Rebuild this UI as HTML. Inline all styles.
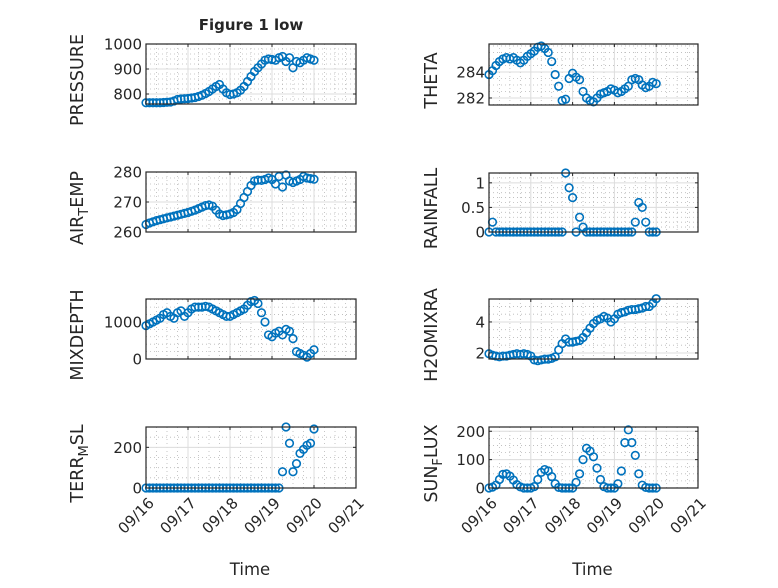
<!DOCTYPE html>
<html><head><meta charset="utf-8"><style>
body{margin:0;background:#fff}
svg text{font-family:"DejaVu Sans","Liberation Sans",sans-serif;fill:#262626}
</style></head><body>
<svg id="fig" width="778" height="583" viewBox="0 0 778 583" xmlns="http://www.w3.org/2000/svg">
<text x="251" y="30" font-size="15" font-weight="bold" text-anchor="middle">Figure 1 low</text>
</svg>
<script>
const hours = [0,2,4,6,8,10,12,14,16,18,20,22,24,26,28,30,32,34,36,38,40,42,44,46,48,50,52,54,56,58,60,62,64,66,68,70,72,74,76,78,80,82,84,86,88,90,92,94,96];
const pressure = [765,765,765,765,765,766,767,768,772,778,780,781,782,784,786,790,795,802,810,820,830,838,820,805,798,800,805,815,830,850,870,890,905,920,935,940,938,935,945,950,930,945,905,930,925,935,945,940,935];
const airTemp = [262.5,263,263.4,263.8,264.1,264.4,264.7,265,265.3,265.6,265.9,266.2,266.5,266.9,267.3,267.8,268.3,268.8,269,268.6,267.3,266,265.5,265.7,266,266.5,267.5,269.5,271.5,273.5,275.5,277,277.3,277.2,277.5,278,277.5,276,278.5,275,279,277,276.5,277,277.5,278.5,278,277.8,277.6];
const theta = [283.8,284.1,284.5,284.8,285.0,285.1,285.0,285.1,284.9,284.7,284.9,285.2,285.4,285.6,285.9,286.0,285.8,285.5,284.8,283.8,282.9,281.8,281.9,283.5,283.9,283.6,283.4,282.5,282.0,281.8,281.7,282.0,282.3,282.4,282.5,282.7,282.6,282.4,282.5,282.7,282.9,283.4,283.5,283.4,283.0,282.8,282.9,283.2,283.1];
const rainfall = [0,0.2,0,0,0,0,0,0,0,0,0,0,0,0,0,0,0,0,0,0,0,0,1.2,0.9,0.7,0,0.3,0.1,0,0,0,0,0,0,0,0,0,0,0,0,0,0,0.2,0.6,0.5,0.2,0,0,0];
const mixDepth = [900,950,1000,1050,1100,1200,1250,1150,1100,1250,1300,1150,1250,1350,1400,1400,1400,1420,1400,1350,1300,1250,1200,1150,1150,1200,1250,1300,1350,1450,1550,1580,1500,1250,1000,650,600,700,750,650,800,750,550,200,150,100,50,150,250];
const h2oMix = [1.95,1.85,1.8,1.75,1.8,1.8,1.85,1.9,1.95,1.9,1.95,1.9,1.8,1.55,1.5,1.55,1.6,1.6,1.65,1.75,2.2,2.6,2.9,2.7,2.7,2.75,2.8,3.0,3.3,3.6,3.9,4.1,4.2,4.35,4.25,4.0,4.2,4.5,4.6,4.65,4.75,4.8,4.8,4.85,4.9,5.0,5.0,5.2,5.5];
const terrMsl = [0,0,0,0,0,0,0,0,0,0,0,0,0,0,0,0,0,0,0,0,0,0,0,0,0,0,0,0,0,0,0,0,0,0,0,0,0,0,0,80,300,220,80,120,170,190,210,220,290];
const sunFlux = [0,3,10,30,48,50,42,28,12,4,0,0,0,5,30,55,65,60,40,15,2,0,0,0,0,20,50,100,140,130,110,70,30,5,0,0,0,15,60,160,205,160,115,50,10,2,0,0,0];
const dayLabels = ["09/16","09/17","09/18","09/19","09/20","09/21"];

const NS="http://www.w3.org/2000/svg";
const fig=document.getElementById('fig');
function mk(tag,attrs,parent){const e=document.createElementNS(NS,tag);for(const k in attrs)e.setAttribute(k,attrs[k]);(parent||fig).appendChild(e);return e;}

const panels=[
 {name:'pressure',data:pressure,x0:146,x1:356,y0:44,y1:104,lo:760,hi:1000,ticks:[800,900,1000],minor:20,label:['PRESSURE'],lx:83},
 {name:'theta',data:theta,x0:489,x1:698,y0:44,y1:105,lo:281.46,hi:286.15,ticks:[282,284],minor:0.5,label:['THETA'],lx:437},
 {name:'air-temp',data:airTemp,x0:146,x1:356,y0:172,y1:232,lo:260,hi:280,ticks:[260,270,280],minor:2,label:['AIR','T','EMP'],lx:83},
 {name:'rainfall',data:rainfall,x0:489,x1:698,y0:173,y1:232,lo:0,hi:1.2,ticks:[0,0.5,1],minor:0.1,label:['RAINFALL'],lx:437},
 {name:'mixdepth',data:mixDepth,x0:146,x1:356,y0:299,y1:359,lo:0,hi:1620,ticks:[0,1000],minor:200,label:['MIXDEPTH'],lx:83},
 {name:'h2o-mix',data:h2oMix,x0:489,x1:698,y0:299,y1:359,lo:1.61,hi:5.48,ticks:[2,4],minor:0.5,label:['H2OMIXRA'],lx:437},
 {name:'terr-msl',data:terrMsl,x0:146,x1:356,y0:427,y1:488,lo:0,hi:300,ticks:[0,200],minor:50,label:['TERR','M','SL'],lx:83,xl:true},
 {name:'sun-flux',data:sunFlux,x0:489,x1:698,y0:427,y1:488,lo:0,hi:215,ticks:[0,100,200],minor:25,label:['SUN','F','LUX'],lx:437,xl:true}
];

panels.forEach(p=>{
 const g=mk('g',{});
 
 
 const X=h=>p.x0+(h/120)*(p.x1-p.x0);
 const Y=v=>p.y1-(v-p.lo)/(p.hi-p.lo)*(p.y1-p.y0);
 mk('rect',{x:p.x0,y:p.y0,width:p.x1-p.x0,height:p.y1-p.y0,fill:'#fff'},g);
 for(let h=6;h<120;h+=6){if(h%24===0)continue;mk('line',{x1:X(h),x2:X(h),y1:p.y0,y2:p.y1,stroke:'#b8b8b8','stroke-width':0.8,'stroke-dasharray':'1 3'},g);}
 for(let v=Math.ceil(p.lo/p.minor)*p.minor;v<p.hi;v+=p.minor){if(p.ticks.some(t=>Math.abs(t-v)<1e-6))continue;mk('line',{x1:p.x0,x2:p.x1,y1:Y(v),y2:Y(v),stroke:'#b8b8b8','stroke-width':0.8,'stroke-dasharray':'1 3'},g);}
 for(let d=1;d<5;d++)mk('line',{x1:X(d*24),x2:X(d*24),y1:p.y0,y2:p.y1,stroke:'#dcdcdc','stroke-width':1},g);
 p.ticks.forEach(t=>{mk('line',{x1:p.x0,x2:p.x1,y1:Y(t),y2:Y(t),stroke:'#dcdcdc','stroke-width':1},g);
  const tl=mk('text',{x:p.x0-4,y:Y(t)+5.5,'font-size':15,'text-anchor':'end'},g);tl.textContent=String(t);
  
  
  mk('line',{x1:p.x0,x2:p.x0+3,y1:Y(t),y2:Y(t),stroke:'#262626'},g);mk('line',{x1:p.x1,x2:p.x1-3,y1:Y(t),y2:Y(t),stroke:'#262626'},g);});
 for(let d=0;d<=5;d++){mk('line',{x1:X(d*24),x2:X(d*24),y1:p.y1,y2:p.y1-3,stroke:'#262626'},g);mk('line',{x1:X(d*24),x2:X(d*24),y1:p.y0,y2:p.y0+3,stroke:'#262626'},g);
  if(p.xl){const t=mk('text',{x:0,y:0,'font-size':15,'text-anchor':'end',transform:`translate(${X(d*24)+9},${p.y1+16}) rotate(-45)`},g);t.textContent=dayLabels[d];
   
   }}
 p.data.forEach((v,i)=>{const c=mk('circle',{cx:X(hours[i]),cy:Y(v),r:3.8,fill:'none',stroke:'#0072BD','stroke-width':1.6},g);
  
  });
 mk('rect',{x:p.x0,y:p.y0,width:p.x1-p.x0,height:p.y1-p.y0,fill:'none',stroke:'#262626','stroke-width':1.2},g);
 const cy=(p.y0+p.y1)/2+6;
 const yl=mk('text',{x:0,y:0,'font-size':17.5,'text-anchor':'middle',transform:`translate(${p.lx},${cy}) rotate(-90)`},g);
 
 
 if(p.label.length===1){yl.textContent=p.label[0];}
 else{const a=mk('tspan',{},yl);a.textContent=p.label[0];const b=mk('tspan',{dy:5,'font-size':13},yl);b.textContent=p.label[1];const c=mk('tspan',{dy:-5},yl);c.textContent=p.label[2];}
 if(p.xl){const t=mk('text',{x:(p.x0+p.x1)/2-1,y:575,'font-size':16.5,'text-anchor':'middle'},g);t.textContent='Time';
  
  }
});
</script>
</body></html>
